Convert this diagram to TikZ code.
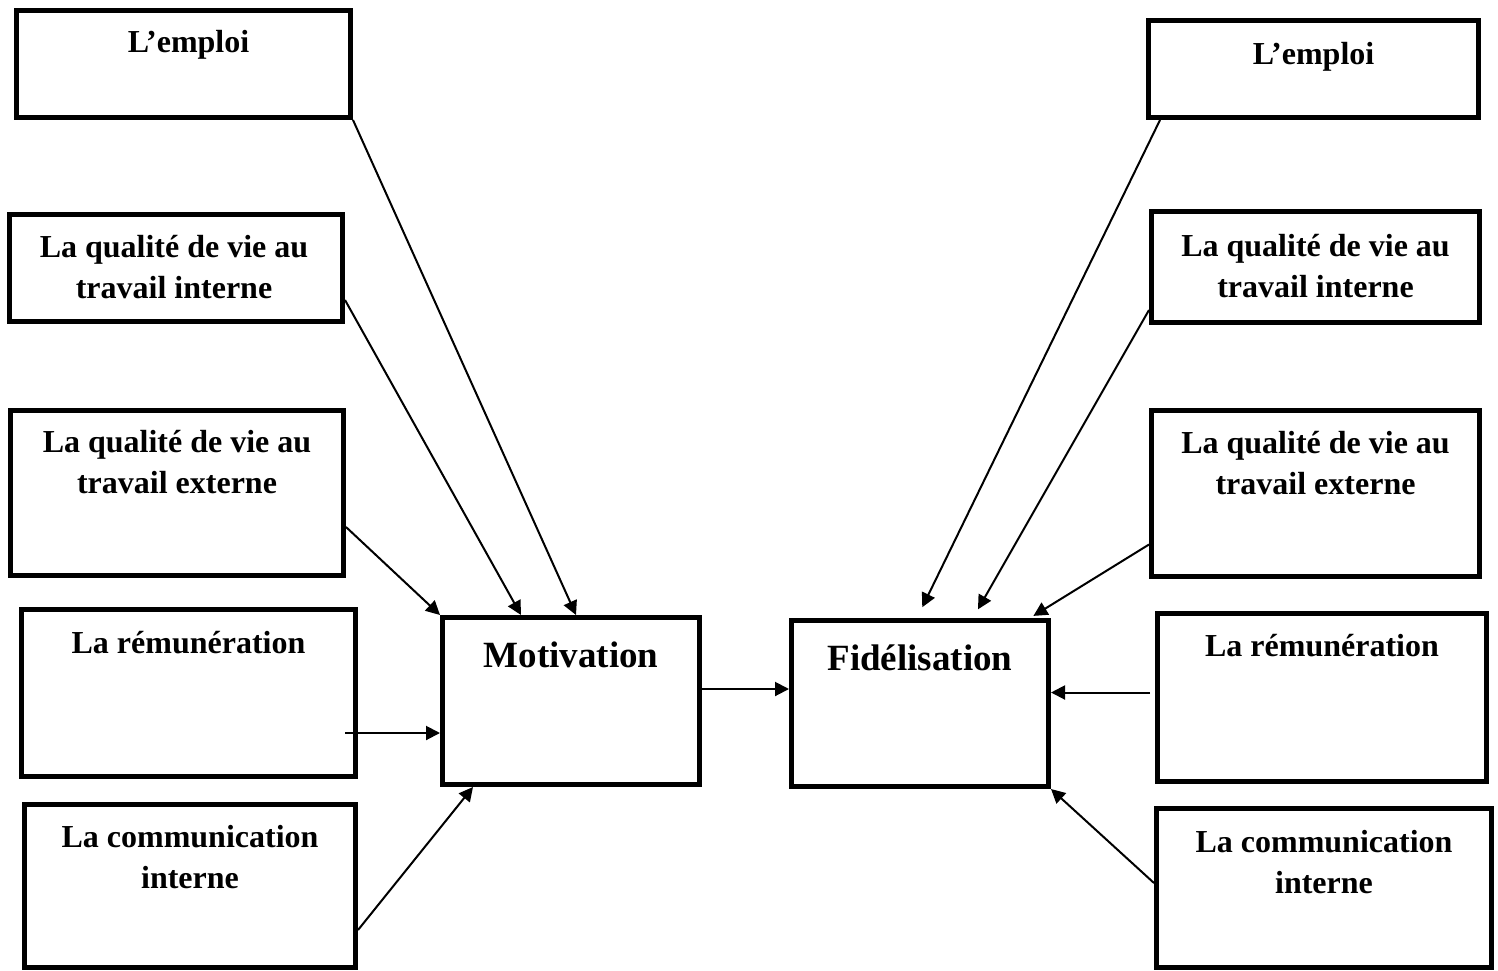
\documentclass[tikz,border=0pt]{standalone}
\usepackage{fontspec}
\setmainfont{Liberation Serif}
\usetikzlibrary{arrows.meta}
\begin{document}
\begin{tikzpicture}[x=1pt,y=-1pt,
  box/.style={draw=black, line width=5pt, rectangle, fill=white},
  lbl/.style={anchor=base, inner sep=0pt, font=\fontsize{32}{41}\selectfont\bfseries},
  biglbl/.style={anchor=base, inner sep=0pt, font=\fontsize{37}{44}\selectfont\bfseries},
  arr/.style={line width=2pt, -{Triangle[length=14pt,width=14pt]}}
]
\useasboundingbox (0,0) rectangle (1498,971);
\fill[white] (0,0) rectangle (1498,971);

% Left column
\node[box, minimum width=334pt, minimum height=107pt] (l1) at (183.5,64) {};
\node[box, minimum width=333pt, minimum height=107pt] (l2) at (176,268) {};
\node[box, minimum width=333pt, minimum height=165pt] (l3) at (177,493) {};
\node[box, minimum width=334pt, minimum height=167pt] (l4) at (188.5,693) {};
\node[box, minimum width=331pt, minimum height=163pt] (l5) at (190,886) {};

% Centre
\node[box, minimum width=257pt, minimum height=167pt] (mot) at (571,701) {};
\node[box, minimum width=257pt, minimum height=166pt] (fid) at (920,703.5) {};

% Right column
\node[box, minimum width=330pt, minimum height=97pt] (r1) at (1313.5,69) {};
\node[box, minimum width=328pt, minimum height=111pt] (r2) at (1315.5,267) {};
\node[box, minimum width=328pt, minimum height=166pt] (r3) at (1315.5,493.5) {};
\node[box, minimum width=329pt, minimum height=168pt] (r4) at (1322,697.5) {};
\node[box, minimum width=335pt, minimum height=159pt] (r5) at (1324,888) {};

% Labels
\node[lbl] (tl1) at ([xshift=5pt,yshift=-45pt]l1.north) {L’emploi};
\node[lbl] (tl2) at ([xshift=-2pt,yshift=-45pt]l2.north) {\begin{tabular}[t]{@{}c@{}}La qualité de vie au\\travail interne\end{tabular}};
\node[lbl] (tl3) at ([yshift=-44pt]l3.north) {\begin{tabular}[t]{@{}c@{}}La qualité de vie au\\travail externe\end{tabular}};
\node[lbl] (tl4) at ([yshift=-46pt]l4.north) {La rémunération};
\node[lbl] (tl5) at ([yshift=-45pt]l5.north) {\begin{tabular}[t]{@{}c@{}}La communication\\interne\end{tabular}};

\node[biglbl] (tmot) at ([yshift=-52pt]mot.north) {Motivation};
\node[biglbl] (tfid) at ([yshift=-52pt]fid.north) {Fidélisation};

\node[lbl] (tr1) at ([yshift=-47pt]r1.north) {L’emploi};
\node[lbl] (tr2) at ([yshift=-47pt]r2.north) {\begin{tabular}[t]{@{}c@{}}La qualité de vie au\\travail interne\end{tabular}};
\node[lbl] (tr3) at ([yshift=-45pt]r3.north) {\begin{tabular}[t]{@{}c@{}}La qualité de vie au\\travail externe\end{tabular}};
\node[lbl] (tr4) at ([yshift=-45pt]r4.north) {La rémunération};
\node[lbl] (tr5) at ([yshift=-46pt]r5.north) {\begin{tabular}[t]{@{}c@{}}La communication\\interne\end{tabular}};

% Left arrows
\draw[arr] (l1.south east) -- ([xshift=5pt]mot.north);
\draw[arr] ([yshift=-32pt]l2.east) -- ([xshift=-50pt]mot.north);
\draw[arr] ([yshift=-34pt]l3.east) -- (mot.north west);
\coordinate (a4) at ([xshift=-13pt,yshift=-40pt]l4.east);
\draw[arr] (a4) -- (a4 -| mot.west);
\draw[arr] ([yshift=-44pt]l5.east) -- ([xshift=-98pt]mot.south);

% Middle arrow
\coordinate (m0) at ([yshift=12pt]mot.east);
\draw[arr] (m0) -- (m0 -| fid.west);

% Right arrows
\draw[arr, shorten >=12pt] ([xshift=14pt]r1.south west) -- ([xshift=-3pt]fid.north);
\draw[arr, shorten >=10pt] ([yshift=-43pt]r2.west) -- ([xshift=53pt]fid.north);
\draw[arr, shorten >=4pt] ([yshift=-51pt]r3.west) -- ([xshift=110pt]fid.north);
\coordinate (b4) at ([xshift=-5pt,yshift=5pt]r4.west);
\draw[arr] (b4) -- (b4 -| fid.east);
\draw[arr] ([yshift=5pt]r5.west) -- (fid.south east);
\end{tikzpicture}
\end{document}
